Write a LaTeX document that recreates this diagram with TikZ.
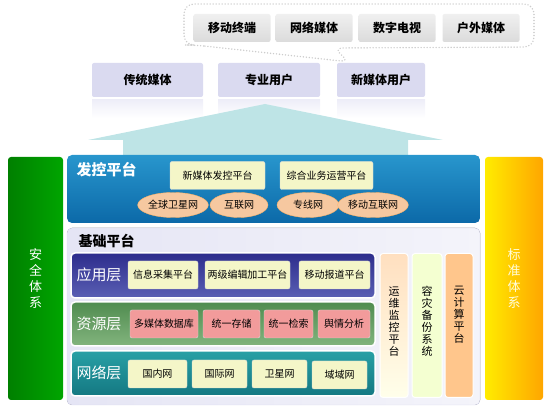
\documentclass[tikz,border=0pt]{standalone}
\usepackage{fontspec}
\setmainfont{Noto Sans CJK SC}
\usetikzlibrary{shapes.geometric}
\definecolor{lav}{RGB}{218,218,240}
\definecolor{arrowc}{RGB}{190,228,230}
\definecolor{boxy}{RGB}{244,246,200}
\definecolor{peach}{RGB}{246,200,160}
\definecolor{pinkb}{RGB}{242,155,155}
\definecolor{dispTop}{RGB}{40,150,205}
\definecolor{dispBot}{RGB}{12,105,168}
\definecolor{appTop}{RGB}{45,45,140}
\definecolor{appBot}{RGB}{90,95,180}
\definecolor{resTop}{RGB}{80,140,80}
\definecolor{resBot}{RGB}{130,180,125}
\definecolor{netTop}{RGB}{40,160,165}
\definecolor{netBot}{RGB}{20,120,130}

\begin{document}
\begin{tikzpicture}[x=1pt,y=-1pt,
	greybox/.style={rounded corners=2pt,top color=gray!12,bottom color=gray!28,minimum width=77,minimum height=28,font=\bfseries\fontsize{12}{14}\selectfont},
	userbox/.style={rounded corners=2pt,fill=lav,minimum height=34,font=\bfseries\fontsize{12}{14}\selectfont},
	itembox/.style={rounded corners=2pt,fill=boxy,draw=black!15,minimum height=28,inner sep=1pt,font=\fontsize{10}{12}\selectfont},
	netoval/.style={ellipse,fill=peach,draw=orange!60,inner sep=0pt,minimum height=25,font=\fontsize{10}{12}\selectfont},
	layer/.style={rounded corners=4pt,draw=white,line width=1.5pt},
	layertitle/.style={text=white,font=\fontsize{15}{17}\selectfont},
	vbar/.style={rounded corners=3pt,align=center,font=\fontsize{13}{16}\selectfont},
	vcol/.style={rounded corners=3pt,draw=white,line width=1pt,align=center,font=\fontsize{11}{12}\selectfont}]
\useasboundingbox (0,0) rectangle (550,411);

% outer media cloud
\draw[dash pattern=on 0pt off 3pt,line width=1.6pt,line cap=round,gray!40,rounded corners=10pt] (195,45) -- (350,62) -- (333,48) -- (534,47) -- (534,4) -- (184,4) -- (184,45) -- cycle;
\node[greybox] (mobile) at (232,28) {移动终端};
\node[greybox] (webmedia) at (314,28) {网络媒体};
\node[greybox] (digitv) at (397,28) {数字电视};
\node[greybox] (outdoor) at (481,28) {户外媒体};

% users
\foreach \l/\r in {92/203,218/320,337/425}
	\shade[top color=lav!45,bottom color=white] (\l,100) rectangle (\r,118);
\node[userbox,minimum width=111] (tradmedia) at (147.5,80) {传统媒体};
\node[userbox,minimum width=102] (prouser) at (269,80) {专业用户};
\node[userbox,minimum width=88] (newuser) at (381,80) {新媒体用户};

% big arrow
\fill[arrowc] (123,156) -- (123,140) -- (88,140) -- (265,104) -- (443,140) -- (408,140) -- (408,156) -- cycle;

% side bars
\node[vbar,minimum width=55,minimum height=243,left color=green!50!black,right color=green!65!black,text=white] (safety) at (35.5,278.5) {安\\全\\体\\系};
\node[vbar,minimum width=58,minimum height=243,left color=yellow!85!orange,right color=orange!70!yellow,text=yellow!15] (standard) at (514,278.5) {标\\准\\体\\系};

% dispatch platform
\shade[rounded corners=5pt,top color=dispTop,bottom color=dispBot] (67,155) rectangle (480,223);
\node[text=white,font=\bfseries\fontsize{15}{17}\selectfont,anchor=west] (dispatch) at (73,170) {发控平台};
\node[itembox,minimum width=95] (newdispatch) at (217.5,175.5) {新媒体发控平台};
\node[itembox,minimum width=93] (operation) at (326.5,175.5) {综合业务运营平台};
\node[netoval,minimum width=60] (satnet) at (173,205) {全球卫星网};
\node[netoval,minimum width=58] (internet) at (239,205) {互联网};
\node[netoval,minimum width=62] (linenet) at (308,205) {专线网};
\node[netoval,minimum width=60] (mobnet) at (373,205) {移动互联网};

% base platform
\fill[rounded corners=5pt,left color=lav!70,right color=lav!30,draw=lav] (67,228) rectangle (480,405);
\node[font=\bfseries\fontsize{14}{16}\selectfont,anchor=west] (base) at (75,241) {基础平台};

% application layer
\shade[layer,top color=appTop,bottom color=appBot] (71,253) rectangle (375,298);
\node[layertitle] (applayer) at (99,275) {应用层};
\node[itembox,minimum width=70] (collect) at (163,275) {信息采集平台};
\node[itembox,minimum width=85] (editing) at (247.5,275) {两级编辑加工平台};
\node[itembox,minimum width=71] (report) at (334.5,275) {移动报道平台};

% resource layer
\shade[layer,top color=resTop,bottom color=resBot] (71,302) rectangle (375,346);
\node[layertitle] (reslayer) at (99,324) {资源层};
\node[itembox,fill=pinkb,minimum width=68] (mmdb) at (164,324) {多媒体数据库};
\node[itembox,fill=pinkb,minimum width=57] (storage) at (231.5,324) {统一存储};
\node[itembox,fill=pinkb,minimum width=49] (search) at (288.5,324) {统一检索};
\node[itembox,fill=pinkb,minimum width=52] (opinion) at (344,324) {舆情分析};

% network layer
\shade[layer,top color=netTop,bottom color=netBot] (71,351) rectangle (375,396);
\node[layertitle] (netlayer) at (99,373) {网络层};
\node[itembox,minimum width=59] (domestic) at (157.5,374) {国内网};
\node[itembox,minimum width=55] (intl) at (219.5,374) {国际网};
\node[itembox,minimum width=55] (satellite) at (279.5,374) {卫星网};
\node[itembox,minimum width=55] (regional) at (339.5,375) {域域网};

% right columns
\node[vcol,minimum width=28,minimum height=144,anchor=north,top color=orange!25,bottom color=yellow!8] (monitor) at (394,253) {};
\node[anchor=north,align=center,font=\fontsize{11}{12}\selectfont] (monitortxt) at (394,283) {运\\维\\监\\控\\平\\台};
\node[vcol,minimum width=30,minimum height=144,anchor=north,fill=lime!18] (backup) at (427,253) {};
\node[anchor=north,align=center,font=\fontsize{11}{12}\selectfont] (backuptxt) at (427,283) {容\\灾\\备\\份\\系\\统};
\node[vcol,minimum width=28,minimum height=144,anchor=north,fill=orange!45] (cloud) at (459,253) {};
\node[anchor=north,align=center,font=\fontsize{11}{12}\selectfont] (cloudtxt) at (459,283) {云\\计\\算\\平\\台};
\end{tikzpicture}
\end{document}
